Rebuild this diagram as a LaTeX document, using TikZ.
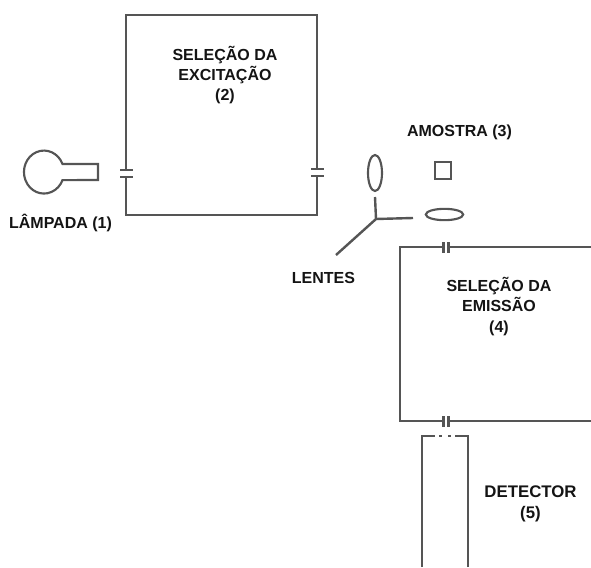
\documentclass[tikz,border=0pt]{standalone}
\usepackage{fontspec}
\setmainfont{Liberation Sans}
\usetikzlibrary{positioning,shapes.geometric}
\definecolor{LineGray}{RGB}{85,85,85}
\definecolor{DarkText}{RGB}{20,20,20}

\begin{document}
\begin{tikzpicture}[
    x=0.75pt, y=-0.75pt,
    wall/.style={draw=LineGray, line width=1.8pt},
    lens/.style={ellipse, draw=LineGray, line width=1.6pt, inner sep=0pt},
    caption/.style={font=\fontsize{12}{15}\selectfont\bfseries, text=DarkText, align=center},
    widecaption/.style={font=\fontsize{12}{15.6}\selectfont\bfseries, text=DarkText, align=center}
]
\useasboundingbox (0,0) rectangle (591,567);

% lamp
\draw[wall, line width=1.6pt] (98,164) -- (62.5,164) arc[start angle=-22, end angle=-338, x radius=20, y radius=21.5] -- (98,180) -- cycle;
\node[caption] (lamp) at (60.5,222.5) {LÂMPADA (1)};

% excitation box
\draw[wall] (126,170) -- (126,15) -- (317,15) -- (317,169);
\draw[wall] (126,177) -- (126,215) -- (317,215) -- (317,176);
\draw[wall] (120,170) -- (133,170) (120,177) -- (133,177);
\draw[wall] (311,169) -- (324,169) (311,176) -- (324,176);
\node[caption] (excitation) at (225,75) {SELEÇÃO DA\\EXCITAÇÃO\\(2)};

% sample and lenses
\node[caption] (sample) at (459.5,132) {AMOSTRA (3)};
\node[draw=LineGray, line width=1.6pt, minimum size=12.5pt, inner sep=0pt] (cuvette) at (443,170.5) {};
\node[lens, minimum width=10.5pt, minimum height=27pt] (lens1) at (375,173) {};
\node[lens, minimum width=28pt, minimum height=8.5pt] (lens2) at (444.5,214.5) {};
\coordinate (fork) at (376,219);
\coordinate (forkend) at (336,255);
\draw[wall] (375,197) -- (fork) -- (413,218);
\draw[wall] (fork) -- (forkend);
\node[caption] (lenses) at (323.5,278) {LENTES};

% emission box
\draw[wall] (443,247) -- (400,247) -- (400,421) -- (443,421);
\draw[wall] (449,247) -- (591,247);
\draw[wall] (449,421) -- (591,421);
\draw[wall] (443.5,242) -- (443.5,253) (448.5,242) -- (448.5,253);
\draw[wall] (443.5,416) -- (443.5,427) (448.5,416) -- (448.5,427);
\node[widecaption] (emission) at (499,306.5) {SELEÇÃO DA\\EMISSÃO\\(4)};

% detector
\draw[wall] (422,567) -- (422,436) -- (435,436);
\draw[wall] (468,567) -- (468,436) -- (455,436);
\draw[wall] (439,436) -- (442,436) (448,436) -- (451,436);
\node[widecaption, font=\fontsize{12.6}{15.6}\selectfont\bfseries] (detector) at (530.5,503.5) {DETECTOR\\(5)};
\end{tikzpicture}
\end{document}
